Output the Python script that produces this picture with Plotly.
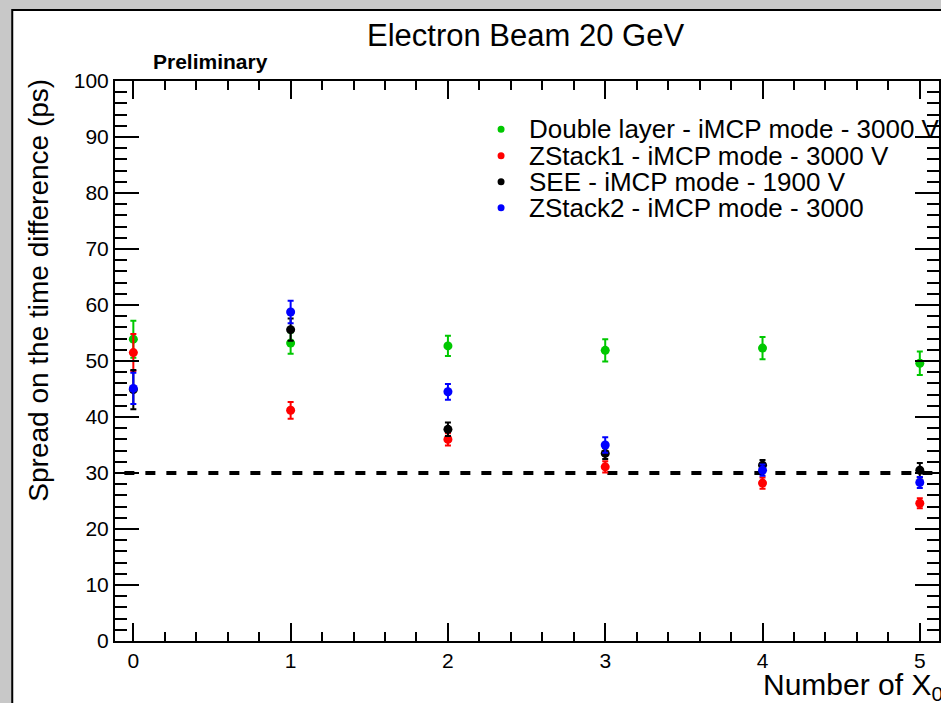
import plotly.graph_objects as go

# ---------------- data ----------------
x_x0 = [0, 1, 2, 3, 4, 5]
series_names = [
    "Double layer - iMCP mode - 3000 V",
    "ZStack1 - iMCP mode - 3000 V",
    "SEE - iMCP mode - 1900 V",
    "ZStack2 - iMCP mode - 3000",
]
series_colors = ["#00c800", "#ff0000", "#000000", "#0000ff"]
double_layer = [53.9, 53.2, 52.7, 51.9, 52.3, 49.6]
double_layer_err = [3.3, 1.9, 1.8, 2.0, 2.0, 2.1]
zstack1 = [51.5, 41.2, 36.0, 31.1, 28.2, 24.6]
zstack1_err = [3.3, 1.5, 1.1, 1.0, 1.0, 0.9]
see = [44.9, 55.6, 37.8, 33.5, 31.4, 30.5]
see_err = [3.5, 2.0, 1.2, 1.0, 0.9, 1.3]
zstack2 = [45.1, 58.75, 44.5, 35.0, 30.5, 28.3]
zstack2_err = [2.8, 2.0, 1.4, 1.4, 1.0, 1.0]
reference_ps = 30
series_values = [double_layer, zstack1, see, zstack2]
series_errors = [double_layer_err, zstack1_err, see_err, zstack2_err]

# ---------------- geometry helpers ----------------
W, H = 941, 703
L, R, T, B = 115, 0, 81, 62
PW = W - L - R
PH = H - T - B
FONT = "Liberation Sans, Arial, Helvetica, sans-serif"


def xp(px):
    return (px - L) / PW


def yp(py):
    return (H - B - py) / PH


fig = go.Figure()

# reference dashed line
fig.add_trace(go.Scatter(
    x=[-0.057, 5.2], y=[reference_ps, reference_ps], mode="lines",
    line=dict(color="black", width=4, dash="10px,11px"),
    showlegend=False, hoverinfo="skip",
))

for name, vals, errs, col in zip(series_names, series_values, series_errors, series_colors):
    fig.add_trace(go.Scatter(
        x=x_x0, y=vals, mode="markers", name=name,
        marker=dict(color=col, size=9, symbol="circle", line=dict(width=0)),
        error_y=dict(type="data", array=errs, visible=True, color=col,
                     thickness=2, width=3),
        showlegend=False,
    ))

shapes = [
    # white canvas with black border (gray paper around)
    dict(type="rect", xref="paper", yref="paper",
         x0=xp(12), x1=xp(990), y0=yp(760), y1=yp(10),
         fillcolor="white", line=dict(color="black", width=2), layer="below"),
]

annotations = [
    dict(text="Electron Beam 20 GeV", x=xp(526), y=yp(35), xref="paper", yref="paper",
         showarrow=False, xanchor="center", yanchor="middle",
         font=dict(family=FONT, size=31, color="black")),
    dict(text="<b>Preliminary</b>", x=xp(211), y=yp(62), xref="paper", yref="paper",
         showarrow=False, xanchor="center", yanchor="middle",
         font=dict(family=FONT, size=21, color="black")),
    dict(text="Spread on the time difference (ps)", x=xp(38), y=yp(77),
         xref="paper", yref="paper", showarrow=False, textangle=-90,
         xanchor="center", yanchor="top",
         font=dict(family=FONT, size=28, color="black")),
    dict(text="Number of X<sub>0</sub>", x=xp(763), y=yp(686), xref="paper", yref="paper",
         showarrow=False, xanchor="left", yanchor="middle",
         font=dict(family=FONT, size=30, color="black")),
]

# manual legend
legend_rows = [129.3, 155.7, 181.7, 207.7]
for name, col, ry in zip(series_names, series_colors, legend_rows):
    shapes.append(dict(type="circle", xref="paper", yref="paper",
                       xsizemode="pixel", ysizemode="pixel",
                       xanchor=xp(502), yanchor=yp(ry),
                       x0=-3.5, x1=3.5, y0=-3.5, y1=3.5,
                       fillcolor=col, line=dict(width=0)))
    annotations.append(dict(text=name, x=xp(528), y=yp(ry), xref="paper", yref="paper",
                            showarrow=False, xanchor="left", yanchor="middle",
                            font=dict(family=FONT, size=26, color="black")))

axis_common = dict(
    showline=True, linecolor="black", linewidth=2, mirror="allticks",
    ticks="inside", tickcolor="black", tickwidth=1.5,
    showgrid=False, zeroline=False,
    tickfont=dict(family=FONT, size=21, color="black"),
)

fig.update_layout(
    width=W, height=H, autosize=False,
    margin=dict(l=L, r=R, t=T, b=B, pad=0),
    paper_bgcolor="#c8c8c8", plot_bgcolor="white",
    showlegend=False,
    xaxis=dict(range=[-0.1166, 5.122], tickmode="linear", tick0=0, dtick=1, ticklen=18,
               minor=dict(ticks="inside", ticklen=9, dtick=0.2, tick0=0,
                          tickcolor="black", tickwidth=1.5),
               **axis_common),
    yaxis=dict(range=[0, 100], tickmode="linear", tick0=0, dtick=10, ticklen=24,
               minor=dict(ticks="inside", ticklen=12, dtick=2, tick0=0,
                          tickcolor="black", tickwidth=1.5),
               **axis_common),
    shapes=shapes,
    annotations=annotations,
)

fig.write_html("out.html")
